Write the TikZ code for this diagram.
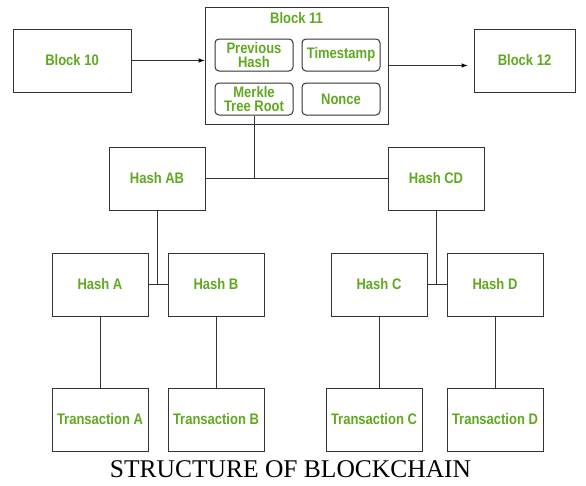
\documentclass[tikz,border=0pt]{standalone}
\usepackage{fontspec}
\setmainfont{Liberation Serif}
\setsansfont{Liberation Sans}
\newfontfamily\boxfont[FakeStretch=0.85]{Liberation Sans}
\usetikzlibrary{arrows}
\usetikzlibrary{positioning,calc}
\definecolor{txtGreen}{RGB}{96,168,32}
\definecolor{lineGray}{RGB}{51,51,51}

\begin{document}
\begin{tikzpicture}[x=1pt,y=-1pt,every text node part/.style={align=center}]
\tikzset{myFont/.style={font=\boxfont\bfseries\fontsize{15.3}{14.5}\selectfont,text=txtGreen}}
\tikzset{myBox/.style={draw=lineGray,line width=1pt,minimum width=96pt,minimum height=63pt,inner sep=0pt,myFont}}
\tikzset{myField/.style={draw=lineGray,line width=1pt,rounded corners=4pt,minimum width=78pt,minimum height=32pt,inner sep=0pt,myFont}}
\tikzset{myLine/.style={draw=lineGray,line width=1pt}}

\useasboundingbox (0,0) rectangle (586,485);

% chain of blocks
\node[myBox,minimum width=118pt] (b10) at (72,60.5) {Block 10};
\node[myBox,minimum width=183pt,minimum height=117pt] (b11) at (296.5,65.5) {};
\node[myFont,inner sep=0pt,below=6pt of b11.north] (b11title) {Block 11};
\node[myField] (prev) at (254,55) {Previous\\Hash};
\node[myField,right=8pt of prev] (stamp) {Timestamp};
\node[myField,below=11pt of prev] (merkle) {Merkle\\Tree Root};
\node[myField,right=8pt of merkle] (nonce) {Nonce};
\node[myBox,minimum width=101pt] (b12) at (524.5,60.5) {Block 12};

\path[myLine,-latex] (b10) edge (b11.west |- b10);
\path[myLine,-latex,shorten >=6pt] (b11) edge (b12.west |- b11);

% merkle tree
\node[myBox] (hashAB) at (157,178.5) {Hash AB};
\node[myBox] (hashCD) at (436,178.5) {Hash CD};
\node[myBox] (hashA) at (100,284.5) {Hash A};
\node[myBox,right=19pt of hashA] (hashB) {Hash B};
\node[myBox] (hashC) at (379,284.5) {Hash C};
\node[myBox,right=19pt of hashC] (hashD) {Hash D};
\node[myBox,below=71pt of hashA] (txA) {Transaction A};
\node[myBox,below=71pt of hashB] (txB) {Transaction B};
\node[myBox,below=71pt of hashC,xshift=-5pt] (txC) {Transaction C};
\node[myBox,below=71pt of hashD] (txD) {Transaction D};

\path[myLine] (merkle) edge (merkle |- hashAB);
\path[myLine] (hashAB) edge (hashCD);
\path[myLine] (hashAB) edge (hashAB |- hashA);
\path[myLine] (hashA) edge (hashB);
\path[myLine] (hashCD) edge (hashCD |- hashC);
\path[myLine] (hashC) edge (hashD);
\path[myLine] (hashA) edge (txA);
\path[myLine] (hashB) edge (txB);
\path[myLine] (hashC) edge (hashC |- txC.north);
\path[myLine] (hashD) edge (hashD |- txD.north);

\node[font=\fontsize{25.5}{27}\selectfont,inner sep=0pt] (caption) at (290.5,469.5) {STRUCTURE OF BLOCKCHAIN};
\end{tikzpicture}
\end{document}
